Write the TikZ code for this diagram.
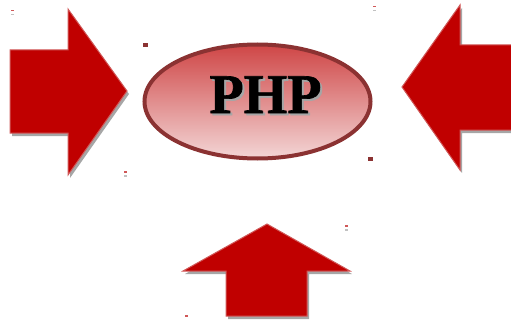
\documentclass[tikz,border=0pt]{standalone}
\usepackage{fontspec}
\setmainfont{Liberation Serif}
\newfontface\phpface[FakeBold=1.2]{Liberation Serif Bold}
\usetikzlibrary{shapes.geometric}
\definecolor{arrowred}{HTML}{C00000}
\definecolor{arrowedge}{HTML}{D05858}
\definecolor{shadowgray}{HTML}{A6A6A6}
\definecolor{ellborder}{HTML}{8B3232}
\definecolor{elltop}{HTML}{CF4646}
\definecolor{ellbot}{HTML}{F3D6D6}
\tikzset{
  bigarrow/.style={fill=arrowred, draw=arrowedge, line width=1pt, line join=miter},
  arrowshadow/.style={fill=shadowgray, draw=none},
  handle/.style={fill=ellborder, draw=none},
  tickred/.style={fill=arrowedge, draw=none},
  tickgray/.style={fill=shadowgray!70, draw=none},
  phpfont/.style={font=\phpface\fontsize{56}{56}\selectfont, inner sep=0pt, anchor=base},
}
\newcommand{\shadowtext}[1]{\rlap{\kern2pt\raisebox{-2pt}{\textcolor{shadowgray}{#1}}}#1}
\begin{document}
\begin{tikzpicture}[x=1pt,y=-1pt]
\useasboundingbox (0,0) rectangle (511,321);
% left arrow
\fill[arrowshadow] (12,53) -- (70,53) -- (70,12) -- (129,94) -- (70,178) -- (70,136) -- (12,136) -- cycle;
\draw[bigarrow] (10,50) -- (68,50) -- (68,9) -- (127,91) -- (68,175) -- (68,133) -- (10,133) -- cycle;
% right arrow
\fill[arrowshadow] (513,48) -- (462,48) -- (462,8) -- (404,90) -- (462,173) -- (462,133) -- (513,133) -- cycle;
\draw[bigarrow] (512,45) -- (460,45) -- (460,5) -- (402,87) -- (460,170) -- (460,130) -- (512,130);
% bottom arrow
\fill[arrowshadow] (269,227) -- (352,274) -- (309,274) -- (309,319) -- (228,319) -- (228,274) -- (185,274) -- cycle;
\draw[bigarrow] (267,224) -- (350,271) -- (307,271) -- (307,316) -- (226,316) -- (226,271) -- (183,271) -- cycle;
% ellipse
\node (php) [ellipse, inner sep=0pt, minimum width=226pt, minimum height=114pt,
  top color=elltop, bottom color=ellbot, draw=ellborder, line width=4pt] at (257.5,101.5) {};
\node (phptext) [phpfont, text=black] at (265.5,113) {\shadowtext{PHP}};
% handles
\fill[handle] (143,43) rectangle (148,47);
\fill[handle] (368,157) rectangle (373,161);
% small ticks
\fill[tickred] (11,10) rectangle (14,11.5);
\fill[tickgray] (11,14) rectangle (14,15.5);
\fill[tickred] (124,171) rectangle (127,172.5);
\fill[tickgray] (124,175) rectangle (127,176.5);
\fill[tickred] (373,6) rectangle (376,7.5);
\fill[tickgray] (373,10) rectangle (376,11.5);
\fill[tickred] (345,225) rectangle (348,226.5);
\fill[tickgray] (345,229) rectangle (348,230.5);
\fill[tickred] (185,315) rectangle (188,316.5);
\end{tikzpicture}
\end{document}
